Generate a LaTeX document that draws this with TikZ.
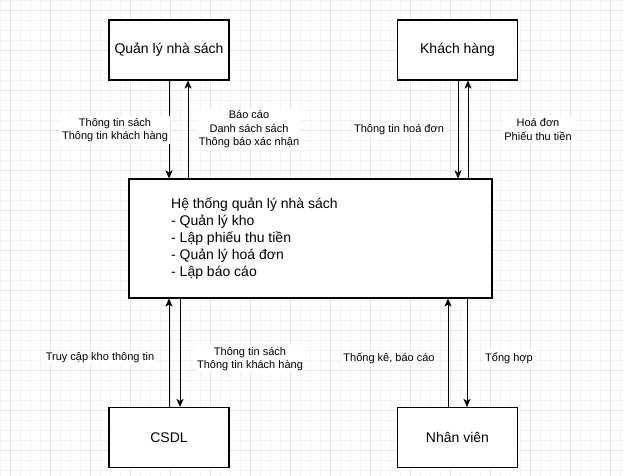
\documentclass[tikz,border=0pt]{standalone}
\usepackage{fontspec}
\setmainfont{Liberation Sans}
\usetikzlibrary{arrows.meta}
\definecolor{gridminor}{HTML}{F4F4F4}
\definecolor{gridmajor}{HTML}{E4E4E4}
\tikzset{
  entity/.style={draw=black, line width=1.1pt, fill=white, minimum width=120pt, minimum height=60pt, inner sep=0pt, font=\fontsize{14}{17}\selectfont},
  flow/.style={draw=black, line width=0.9pt, -{Stealth[length=8pt,width=7pt,inset=2pt]}},
  lbl/.style={fill=white, inner sep=2pt, align=center, font=\fontsize{11}{13.5}\selectfont}
}
\begin{document}
\begin{tikzpicture}[x=1pt,y=-1pt]
\useasboundingbox (0,0) rectangle (624,476);
\fill[white] (0,0) rectangle (624,476);
% grid
\foreach \i in {0,10,...,620} \draw[gridminor, line width=0.6pt] (\i,0) -- (\i,476);
\foreach \j in {0,10,...,470} \draw[gridminor, line width=0.6pt] (0,\j) -- (624,\j);
\foreach \i in {10,50,...,610} \draw[gridmajor, line width=0.7pt] (\i,0) -- (\i,476);
\foreach \j in {10,50,...,450} \draw[gridmajor, line width=0.7pt] (0,\j) -- (624,\j);
% nodes
\node[entity] (qlns) at (169,50) {Quản lý nhà sách};
\node[entity] (kh) at (457.5,50) {Khách hàng};
\node[entity] (csdl) at (169,437.5) {CSDL};
\node[entity] (nv) at (457.5,437.5) {Nhân viên};
\node[draw=black, line width=1.1pt, fill=white, minimum width=363pt, minimum height=119pt, inner sep=0pt] (main) at (310.5,238.5) {};
\node[anchor=west, align=left, inner sep=0pt, font=\fontsize{14}{17}\selectfont] (maintext) at (171,239) {Hệ thống quản lý nhà sách\\- Quản lý kho\\- Lập phiếu thu tiền\\- Quản lý hoá đơn\\- Lập báo cáo};
% coordinates for columns
\coordinate (c1) at (169,0);
\coordinate (c2) at (188,0);
\coordinate (c3) at (458,0);
\coordinate (c4) at (468,0);
\coordinate (c5) at (169,0);
\coordinate (c6) at (180,0);
\coordinate (c7) at (448,0);
\coordinate (c8) at (467,0);
% connectors
\draw[flow] (c1 |- qlns.south) -- (c1 |- main.north);
\draw[flow] (c2 |- main.north) -- (c2 |- qlns.south);
\draw[flow] (c3 |- kh.south) -- (c3 |- main.north);
\draw[flow] (c4 |- main.north) -- (c4 |- kh.south);
\draw[flow] (c5 |- csdl.north) -- (c5 |- main.south);
\draw[flow] (c6 |- main.south) -- (c6 |- csdl.north);
\draw[flow] (c7 |- nv.north) -- (c7 |- main.south);
\draw[flow] (c8 |- main.south) -- (c8 |- nv.north);
% labels
\node[lbl] (l1) at (115,130) {Thông tin sách\\Thông tin khách hàng};
\node[lbl] (l2) at (249,129.5) {Báo cáo\\Danh sách sách\\Thông báo xác nhận};
\node[lbl] (l3) at (399,130) {Thông tin hoá đơn};
\node[lbl] (l4) at (538,129.5) {Hoá đơn\\Phiếu thu tiền};
\node[lbl] (l5) at (100,358) {Truy cập kho thông tin};
\node[lbl] (l6) at (250,359) {Thông tin sách\\Thông tin khách hàng};
\node[lbl] (l7) at (389,358) {Thống kê, báo cáo};
\node[lbl] (l8) at (509,358) {Tổng hợp};
\end{tikzpicture}
\end{document}
